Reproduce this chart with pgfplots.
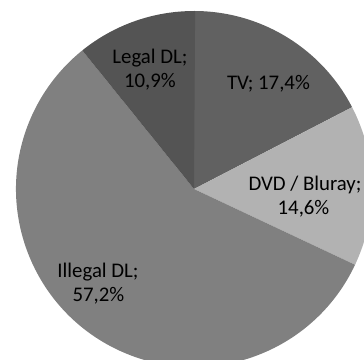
\documentclass[border=0pt]{standalone}
\usepackage{pgfplots}
\usepackage{pgfplotstable}
\pgfplotsset{compat=1.18}
\usepackage{fontspec}
\setmainfont{Carlito}
\definecolor{cTV}{HTML}{616161}
\definecolor{cDVD}{HTML}{B2B2B2}
\definecolor{cIll}{HTML}{808080}
\definecolor{cLeg}{HTML}{545454}
\pgfplotstableread{
label value
TV 17.4
DVD 14.6
Illegal 57.2
Legal 10.9
}\piedata
\begin{document}
\begin{tikzpicture}
\pgfplotstablegetelem{0}{value}\of\piedata \let\vA\pgfplotsretval
\pgfplotstablegetelem{1}{value}\of\piedata \let\vB\pgfplotsretval
\pgfplotstablegetelem{2}{value}\of\piedata \let\vC\pgfplotsretval
\pgfplotstablegetelem{3}{value}\of\piedata \let\vD\pgfplotsretval
\pgfmathsetmacro\aA{90}
\pgfmathsetmacro\aB{\aA-3.6*\vA}
\pgfmathsetmacro\aC{\aB-3.6*\vB}
\pgfmathsetmacro\aD{\aC-3.6*\vC}
\pgfmathsetmacro\aE{\aD-3.6*\vD}
\def\cx{194}\def\cy{171}\def\R{178}
\begin{axis}[
  scale only axis, width=273pt, height=270pt,
  xmin=0, xmax=364, ymin=0, ymax=360,
  hide axis, clip=true,
]
\fill[cTV] (axis cs:\cx,\cy) -- (axis cs:{\cx+\R*cos(\aA)},{\cy+\R*sin(\aA)}) arc[start angle=\aA, end angle=\aB, radius=133.5pt] -- cycle;
\fill[cDVD] (axis cs:\cx,\cy) -- (axis cs:{\cx+\R*cos(\aB)},{\cy+\R*sin(\aB)}) arc[start angle=\aB, end angle=\aC, radius=133.5pt] -- cycle;
\fill[cIll] (axis cs:\cx,\cy) -- (axis cs:{\cx+\R*cos(\aC)},{\cy+\R*sin(\aC)}) arc[start angle=\aC, end angle=\aD, radius=133.5pt] -- cycle;
\fill[cLeg] (axis cs:\cx,\cy) -- (axis cs:{\cx+\R*cos(\aD)},{\cy+\R*sin(\aD)}) arc[start angle=\aD, end angle=\aE, radius=133.5pt] -- cycle;
\tikzset{lbl/.style={anchor=base, inner sep=0pt, font=\fontsize{15.6}{18}\selectfont, text=black}}
\node[lbl] at (axis cs:150,296) {Legal DL;};
\node[lbl] at (axis cs:150,272) {10,9\%};
\node[lbl] at (axis cs:268.5,270) {TV; 17,4\%};
\node[lbl] at (axis cs:305,169.5) {DVD / Bluray;};
\node[lbl] at (axis cs:303.5,145) {14,6\%};
\node[lbl] at (axis cs:98,82) {Illegal DL;};
\node[lbl] at (axis cs:98.5,58) {57,2\%};
\end{axis}
\pgfresetboundingbox
\path (current axis.south west) rectangle (current axis.north east);
\end{tikzpicture}
\end{document}
